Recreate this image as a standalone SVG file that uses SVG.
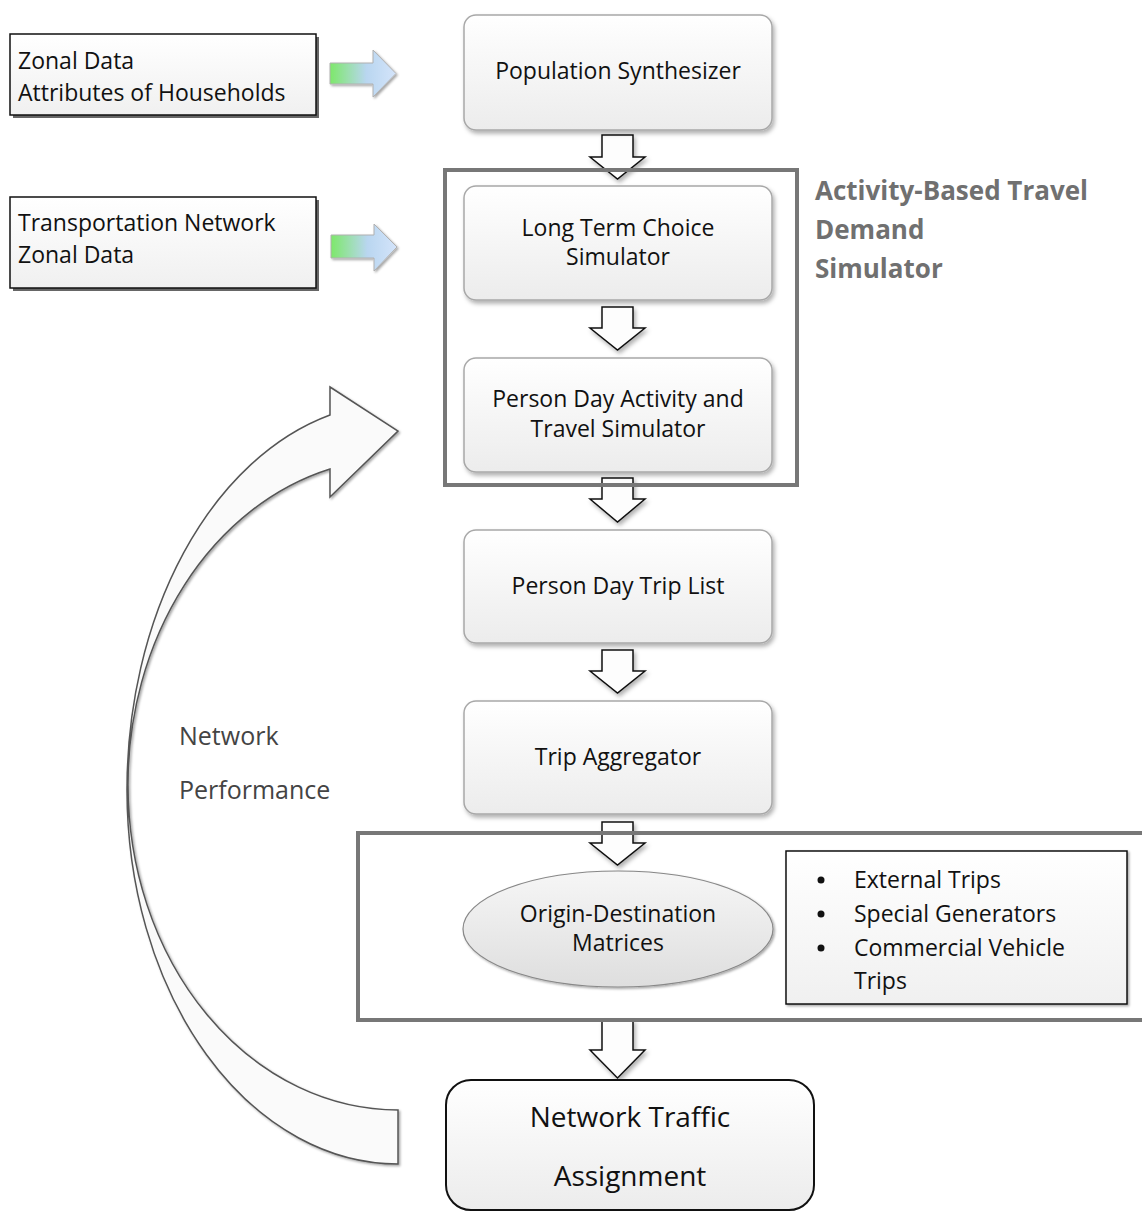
<svg xmlns="http://www.w3.org/2000/svg" width="1142" height="1211" viewBox="0 0 1142 1211">
<defs>
<linearGradient id="gBox" x1="0" y1="0" x2="0" y2="1"><stop offset="0" stop-color="#ffffff"/><stop offset="1" stop-color="#ececec"/></linearGradient>
<linearGradient id="gIn" x1="0" y1="0" x2="0" y2="1"><stop offset="0" stop-color="#ffffff"/><stop offset="1" stop-color="#f0f0f0"/></linearGradient>
<linearGradient id="gEll" x1="0" y1="0" x2="0" y2="1"><stop offset="0" stop-color="#f6f6f6"/><stop offset="1" stop-color="#dedede"/></linearGradient>
<linearGradient id="gArr" x1="0" y1="0" x2="1" y2="0"><stop offset="0" stop-color="#7de86a"/><stop offset="0.55" stop-color="#b9d6f0"/><stop offset="1" stop-color="#d4e4fa"/></linearGradient>
<filter id="sh" x="-10%" y="-10%" width="130%" height="130%"><feDropShadow dx="2" dy="3" stdDeviation="2" flood-color="#000" flood-opacity="0.3"/></filter>
<filter id="sh2" x="-10%" y="-10%" width="130%" height="130%"><feDropShadow dx="1.5" dy="1.5" stdDeviation="1" flood-color="#000" flood-opacity="0.35"/></filter>
</defs>
<style>
text{font-family:"Open Sans","Liberation Sans",Arial,sans-serif;fill:#111}
.t{font-size:23px;text-anchor:middle}
.l{font-size:23px}
.sb{fill:url(#gBox);stroke:#a8a8a8;stroke-width:1.5;filter:url(#sh)}
.inp{fill:url(#gIn);stroke:#111;stroke-width:1.5}
.blk{fill:#fdfdfd;stroke:#111;stroke-width:1.5;stroke-linejoin:miter;filter:url(#sh)}
.grp{fill:none;stroke:#777;stroke-width:4}
.ga{fill:url(#gArr);stroke:#b0b0b0;stroke-width:1;filter:url(#sh2)}
.ttl{font-size:26px;font-weight:bold;fill:#707070}
.np{font-size:25px;fill:#444}
.big{font-size:28px;text-anchor:middle}
</style>

<g id="connectors">
<path id="c-curve" d="M330,415 A271,387 0 0 0 127,790 A271,374 0 0 0 398,1164 L398,1110 A270,325 0 0 1 128,785 A270,326 0 0 1 330,469 L330,497 L398,431 L330,387 Z" fill="#fafafa" stroke="#555" stroke-width="1.5" filter="url(#sh2)"/>
<path class="ga" d="M330,63 H373 V50 L396,73.5 L373,97 V84 H330 Z"/>
<path class="ga" d="M331,235 H374 V224 L397,247 L374,271 V258 H331 Z"/>
<path class="blk" d="M602,135 H633 V157 H645 L617.5,179 L590,157 H602 Z"/>
<path class="blk" d="M602,307 H633 V328 H645 L617.5,350 L590,328 H602 Z"/>
<path class="blk" d="M602,478 H633 V499 H645 L617.5,522 L590,499 H602 Z"/>
<path class="blk" d="M602,650 H633 V671 H645 L617.5,693 L590,671 H602 Z"/>
<path class="blk" d="M602,822 H633 V843 H645 L617.5,865 L590,843 H602 Z"/>
<path class="blk" d="M602,1020 H633 V1050 H645 L617.5,1078 L590,1050 H602 Z"/>
</g>

<g id="n-zonal1">
<rect x="13" y="37" width="306" height="81" fill="#666"/>
<rect class="inp" x="10" y="34" width="306" height="81"/>
<text class="l" x="18" y="69">Zonal Data</text>
<text class="l" x="18" y="101">Attributes of Households</text>
</g>
<g id="n-zonal2">
<rect x="13" y="200" width="306" height="91" fill="#666"/>
<rect class="inp" x="10" y="197" width="306" height="91"/>
<text class="l" x="18" y="231">Transportation Network</text>
<text class="l" x="18" y="263">Zonal Data</text>
</g>

<g id="n-popsyn">
<rect class="sb" x="464" y="15" width="308" height="115" rx="12"/>
<text class="t" x="618" y="79">Population Synthesizer</text>
</g>
<g id="n-longterm">
<rect class="sb" x="464" y="186" width="308" height="114" rx="12"/>
<text class="t" x="618" y="236">Long Term Choice</text>
<text class="t" x="618" y="265">Simulator</text>
</g>
<g id="n-personday">
<rect class="sb" x="464" y="358" width="308" height="114" rx="12"/>
<text class="t" x="618" y="407">Person Day Activity and</text>
<text class="t" x="618" y="437">Travel Simulator</text>
</g>
<g id="n-triplist">
<rect class="sb" x="464" y="530" width="308" height="113" rx="12"/>
<text class="t" x="618" y="594">Person Day Trip List</text>
</g>
<g id="n-tripagg">
<rect class="sb" x="464" y="701" width="308" height="113" rx="12"/>
<text class="t" x="618" y="765">Trip Aggregator</text>
</g>

<g id="n-abtds">
<rect class="grp" x="445" y="170" width="352" height="315"/>
<text class="ttl" x="815" y="200">Activity-Based Travel</text>
<text class="ttl" x="815" y="239">Demand</text>
<text class="ttl" x="815" y="278">Simulator</text>
</g>

<g id="n-odgroup">
<rect class="grp" x="358" y="833" width="790" height="187"/>
</g>
<g id="n-od">
<ellipse cx="618" cy="929" rx="155" ry="58" fill="url(#gEll)" stroke="#888" stroke-width="1.2" filter="url(#sh2)"/>
<text class="t" x="618" y="922">Origin-Destination</text>
<text class="t" x="618" y="951">Matrices</text>
</g>
<g id="n-other">
<rect class="inp" x="786" y="851" width="341" height="153" filter="url(#sh2)"/>
<circle cx="821" cy="880" r="3.5" fill="#111"/>
<circle cx="821" cy="914" r="3.5" fill="#111"/>
<circle cx="821" cy="948" r="3.5" fill="#111"/>
<text class="l" x="854" y="888">External Trips</text>
<text class="l" x="854" y="922">Special Generators</text>
<text class="l" x="854" y="956">Commercial Vehicle</text>
<text class="l" x="854" y="989">Trips</text>
</g>

<g id="n-nta">
<rect x="446" y="1080" width="368" height="130" rx="25" fill="url(#gBox)" stroke="#111" stroke-width="2"/>
<text class="big" x="630" y="1127">Network Traffic</text>
<text class="big" x="630" y="1186">Assignment</text>
</g>

<g id="n-netperf">
<text class="np" x="179" y="745">Network</text>
<text class="np" x="179" y="799">Performance</text>
</g>
</svg>
